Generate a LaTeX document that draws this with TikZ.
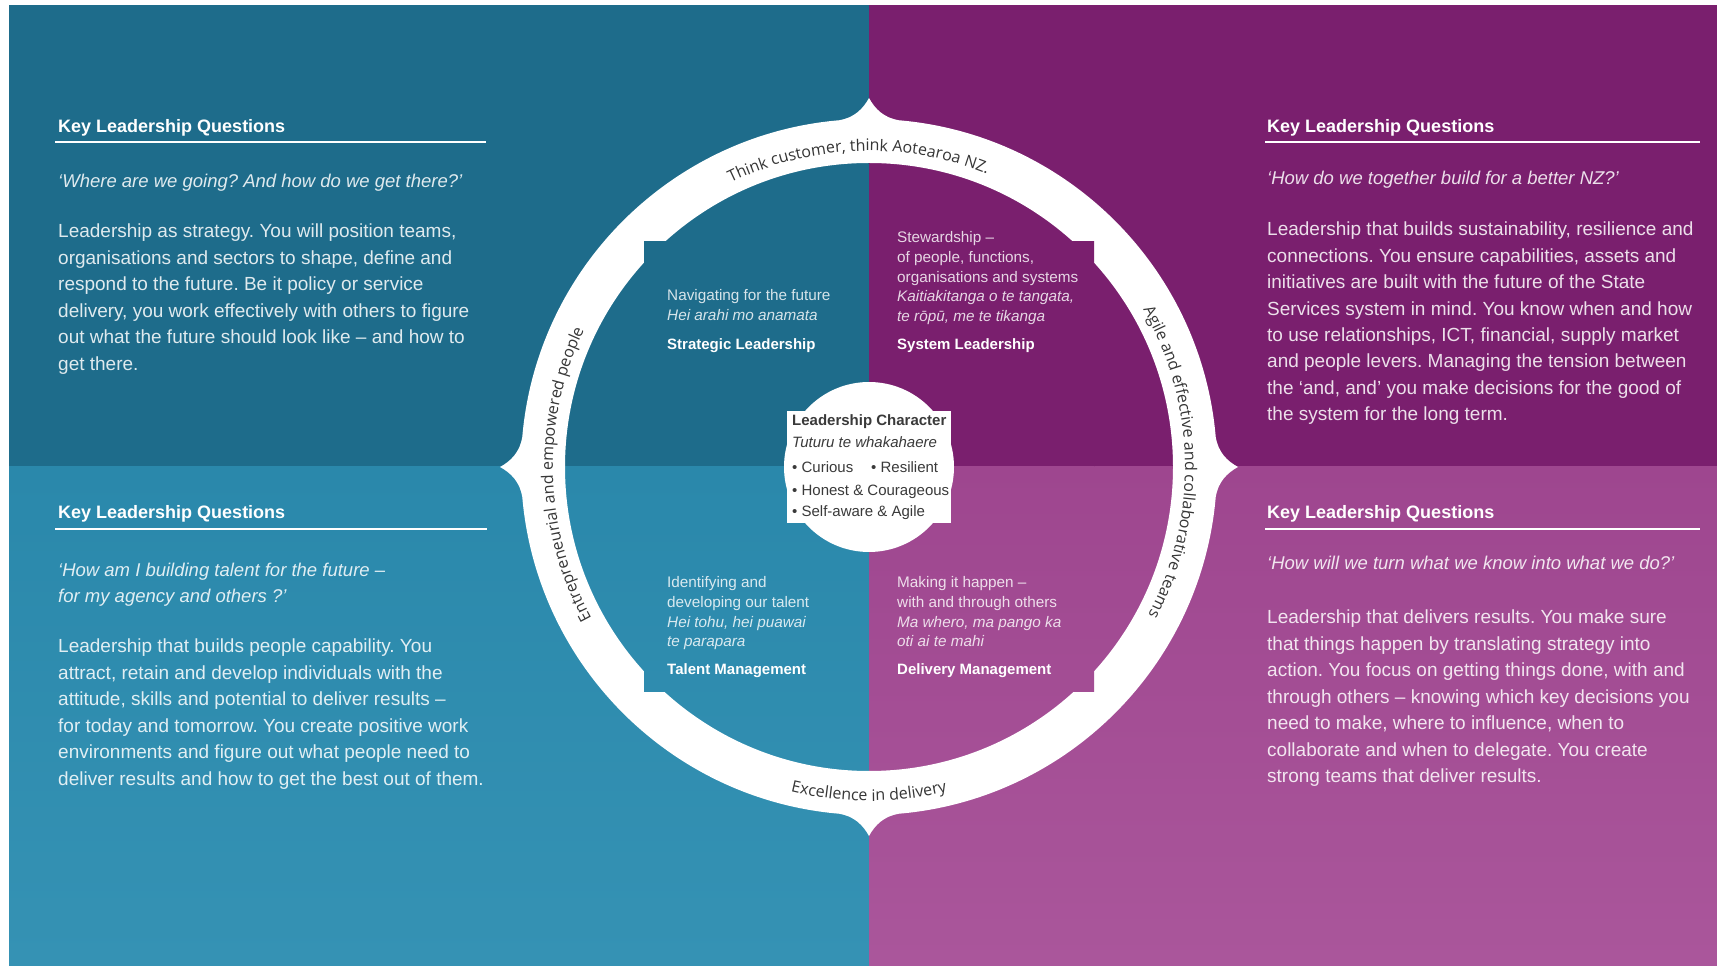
\documentclass[tikz,border=0pt]{standalone}
\usepackage{fontspec}
\setmainfont{Liberation Sans}
\newfontfamily\ringfont{Open Sans}
\usetikzlibrary{decorations.text}
\frenchspacing
\definecolor{tlc}{HTML}{1E6C8B}
\definecolor{trc}{HTML}{7A1F6E}
\definecolor{blc}{HTML}{2A88AB}
\definecolor{blcb}{HTML}{3592B4}
\definecolor{brc}{HTML}{9E468F}
\definecolor{brcb}{HTML}{AA569B}
\definecolor{ringtext}{HTML}{363636}
\definecolor{ctrtext}{HTML}{3A3A3A}
\newcommand\drawquads{%
  \fill[tlc] (9,503) rectangle (869,965);
  \fill[trc] (869,503) rectangle (1717,965);
  \shade[top color=blc, bottom color=blcb] (9,5) rectangle (869,503);
  \shade[top color=brc, bottom color=brcb] (869,5) rectangle (1717,503);
}
\tikzset{
  bodytxt/.style={anchor=base west, inner sep=0, text=white, text opacity=0.86, font=\fontsize{19}{22}\selectfont},
  qtxt/.style={bodytxt, font=\fontsize{18.5}{22}\selectfont\itshape},
  headtxt/.style={anchor=base west, inner sep=0, text=white, font=\fontsize{18}{22}\selectfont\bfseries},
  rulel/.style={white, line width=2pt},
  intxt/.style={anchor=base west, inner sep=0, text=white, text opacity=0.82, font=\fontsize{15.3}{18}\selectfont},
  initl/.style={intxt, font=\fontsize{15.3}{18}\selectfont\itshape},
  inbold/.style={anchor=base west, inner sep=0, text=white, font=\fontsize{15}{18}\selectfont\bfseries},
  ctxt/.style={anchor=base west, inner sep=0, text=ctrtext, font=\fontsize{15}{18}\selectfont},
  bumpshape/.style={white},
}
\begin{document}
\begin{tikzpicture}[x=1pt,y=1pt]
\useasboundingbox (0,0) rectangle (1717,970);
\fill[white] (0,0) rectangle (1717,970);
\drawquads
\coordinate (O) at (869,503);
% white ring
\fill[white, even odd rule] (O) circle[radius=348] (O) circle[radius=304];
% pointed bumps
\foreach \a in {0,90,180,270}{
  \fill[bumpshape, shift={(869,503)}, rotate=\a]
    (346.7,30.3) .. controls (349,15) and (358,6) .. (369,0)
    .. controls (358,-6) and (349,-15) .. (346.7,-30.3) -- cycle;
}
% inner square tabs
\begin{scope}
  \clip (644,278) rectangle (1094,728);
  \drawquads
\end{scope}
% centre shape
\fill[white] (O) circle[radius=85];
\fill[white] (787,447) rectangle (951,559);
% ring texts
\path[decorate, decoration={text along path, text align=center,
  text={|\ringfont\fontsize{16}{18}\selectfont\color{ringtext}|Think customer, think Aotearoa NZ.}}]
  (O) ++(152:316) arc[start angle=152, end angle=32, radius=316];
\path[decorate, decoration={text along path, text align=center,
  text={|\ringfont\fontsize{16}{18}\selectfont\color{ringtext}|Entrepreneurial and empowered people}}]
  (O) ++(242:316) arc[start angle=242, end angle=121, radius=316];
\path[decorate, decoration={text along path, text align=center,
  text={|\ringfont\fontsize{16}{18}\selectfont\color{ringtext}|Agile and effective and collaborative teams}}]
  (O) ++(61:316) arc[start angle=61, end angle=-59, radius=316];
\path[decorate, decoration={text along path, text align=center,
  text={|\ringfont\fontsize{16}{18}\selectfont\color{ringtext}|Excellence in delivery}}]
  (O) ++(220:334) arc[start angle=220, end angle=320, radius=334];

% ---------- top left block ----------
\node[headtxt] (tlh) at (58,837) {Key Leadership Questions};
\coordinate (tlr1) at (55,828); \coordinate (tlr2) at (486,828);
\draw[rulel] (tlr1) -- (tlr2);
\node[qtxt] (tlq) at (58,782) {‘Where are we going? And how do we get there?’};
\foreach [count=\i from 0] \t in {{Leadership as strategy. You will position teams,},
  {organisations and sectors to shape, define and},
  {respond to the future. Be it policy or service},
  {delivery, you work effectively with others to figure},
  {out what the future should look like – and how to},
  {get there.}}
  \node[bodytxt] (tlb\i) at (58,732-26.5*\i) {\t};

% ---------- top right block ----------
\node[headtxt] (trh) at (1267,837) {Key Leadership Questions};
\coordinate (trr1) at (1265,828); \coordinate (trr2) at (1700,828);
\draw[rulel] (trr1) -- (trr2);
\node[qtxt] (trq) at (1267,785.5) {‘How do we together build for a better NZ?’};
\foreach [count=\i from 0] \t in {{Leadership that builds sustainability, resilience and},
  {connections. You ensure capabilities, assets and},
  {initiatives are built with the future of the State},
  {Services system in mind. You know when and how},
  {to use relationships, ICT, financial, supply market},
  {and people levers. Managing the tension between},
  {the ‘and, and’ you make decisions for the good of},
  {the system for the long term.}}
  \node[bodytxt] (trb\i) at (1267,734-26.4*\i) {\t};

% ---------- bottom left block ----------
\node[headtxt] (blh) at (58,451.5) {Key Leadership Questions};
\coordinate (blr1) at (55,441); \coordinate (blr2) at (487,441);
\draw[rulel] (blr1) -- (blr2);
\node[qtxt] (blq1) at (58,393.5) {‘How am I building talent for the future –};
\node[qtxt] (blq2) at (58,367.2) {for my agency and others ?’};
\foreach [count=\i from 0] \t in {{Leadership that builds people capability. You},
  {attract, retain and develop individuals with the},
  {attitude, skills and potential to deliver results –},
  {for today and tomorrow. You create positive work},
  {environments and figure out what people need to},
  {deliver results and how to get the best out of them.}}
  \node[bodytxt] (blb\i) at (58,317-26.5*\i) {\t};

% ---------- bottom right block ----------
\node[headtxt] (brh) at (1267,451.5) {Key Leadership Questions};
\coordinate (brr1) at (1265,441); \coordinate (brr2) at (1700,441);
\draw[rulel] (brr1) -- (brr2);
\node[qtxt] (brq) at (1267,400) {‘How will we turn what we know into what we do?’};
\foreach [count=\i from 0] \t in {{Leadership that delivers results. You make sure},
  {that things happen by translating strategy into},
  {action. You focus on getting things done, with and},
  {through others – knowing which key decisions you},
  {need to make, where to influence, when to},
  {collaborate and when to delegate. You create},
  {strong teams that deliver results.}}
  \node[bodytxt] (brb\i) at (1267,346.4-26.5*\i) {\t};

% ---------- inner quadrant texts ----------
\node[intxt] (q1a) at (667,669) {Navigating for the future};
\node[initl] (q1b) at (667,649) {Hei arahi mo anamata};
\node[inbold] (q1c) at (667,620.5) {Strategic Leadership};

\node[intxt] (q2a) at (897,727) {Stewardship –};
\node[intxt] (q2b) at (897,707) {of people, functions,};
\node[intxt] (q2c) at (897,687) {organisations and systems};
\node[initl] (q2d) at (897,668) {Kaitiakitanga o te tangata,};
\node[initl] (q2e) at (897,648) {te rōpū, me te tikanga};
\node[inbold] (q2f) at (897,620.5) {System Leadership};

\node[intxt] (q3a) at (667,382) {Identifying and};
\node[intxt] (q3b) at (667,362) {developing our talent};
\node[initl] (q3c) at (667,342) {Hei tohu, hei puawai};
\node[initl] (q3d) at (667,323) {te parapara};
\node[inbold] (q3e) at (667,295.5) {Talent Management};

\node[intxt] (q4a) at (897,382) {Making it happen –};
\node[intxt] (q4b) at (897,362) {with and through others};
\node[initl] (q4c) at (897,342) {Ma whero, ma pango ka};
\node[initl] (q4d) at (897,323) {oti ai te mahi};
\node[inbold] (q4e) at (897,295.5) {Delivery Management};

% ---------- centre texts ----------
\node[ctxt, font=\fontsize{15}{18}\selectfont\bfseries] (c1) at (792,544) {Leadership Character};
\node[ctxt, font=\fontsize{15}{18}\selectfont\itshape] (c2) at (792,522) {Tuturu te whakahaere};
\node[ctxt] (c3) at (792,497) {• Curious};
\node[ctxt] (c3b) at (871,497) {• Resilient};
\node[ctxt] (c4) at (792,474) {• Honest \& Courageous};
\node[ctxt] (c5) at (792,453) {• Self-aware \& Agile};
\end{tikzpicture}
\end{document}
